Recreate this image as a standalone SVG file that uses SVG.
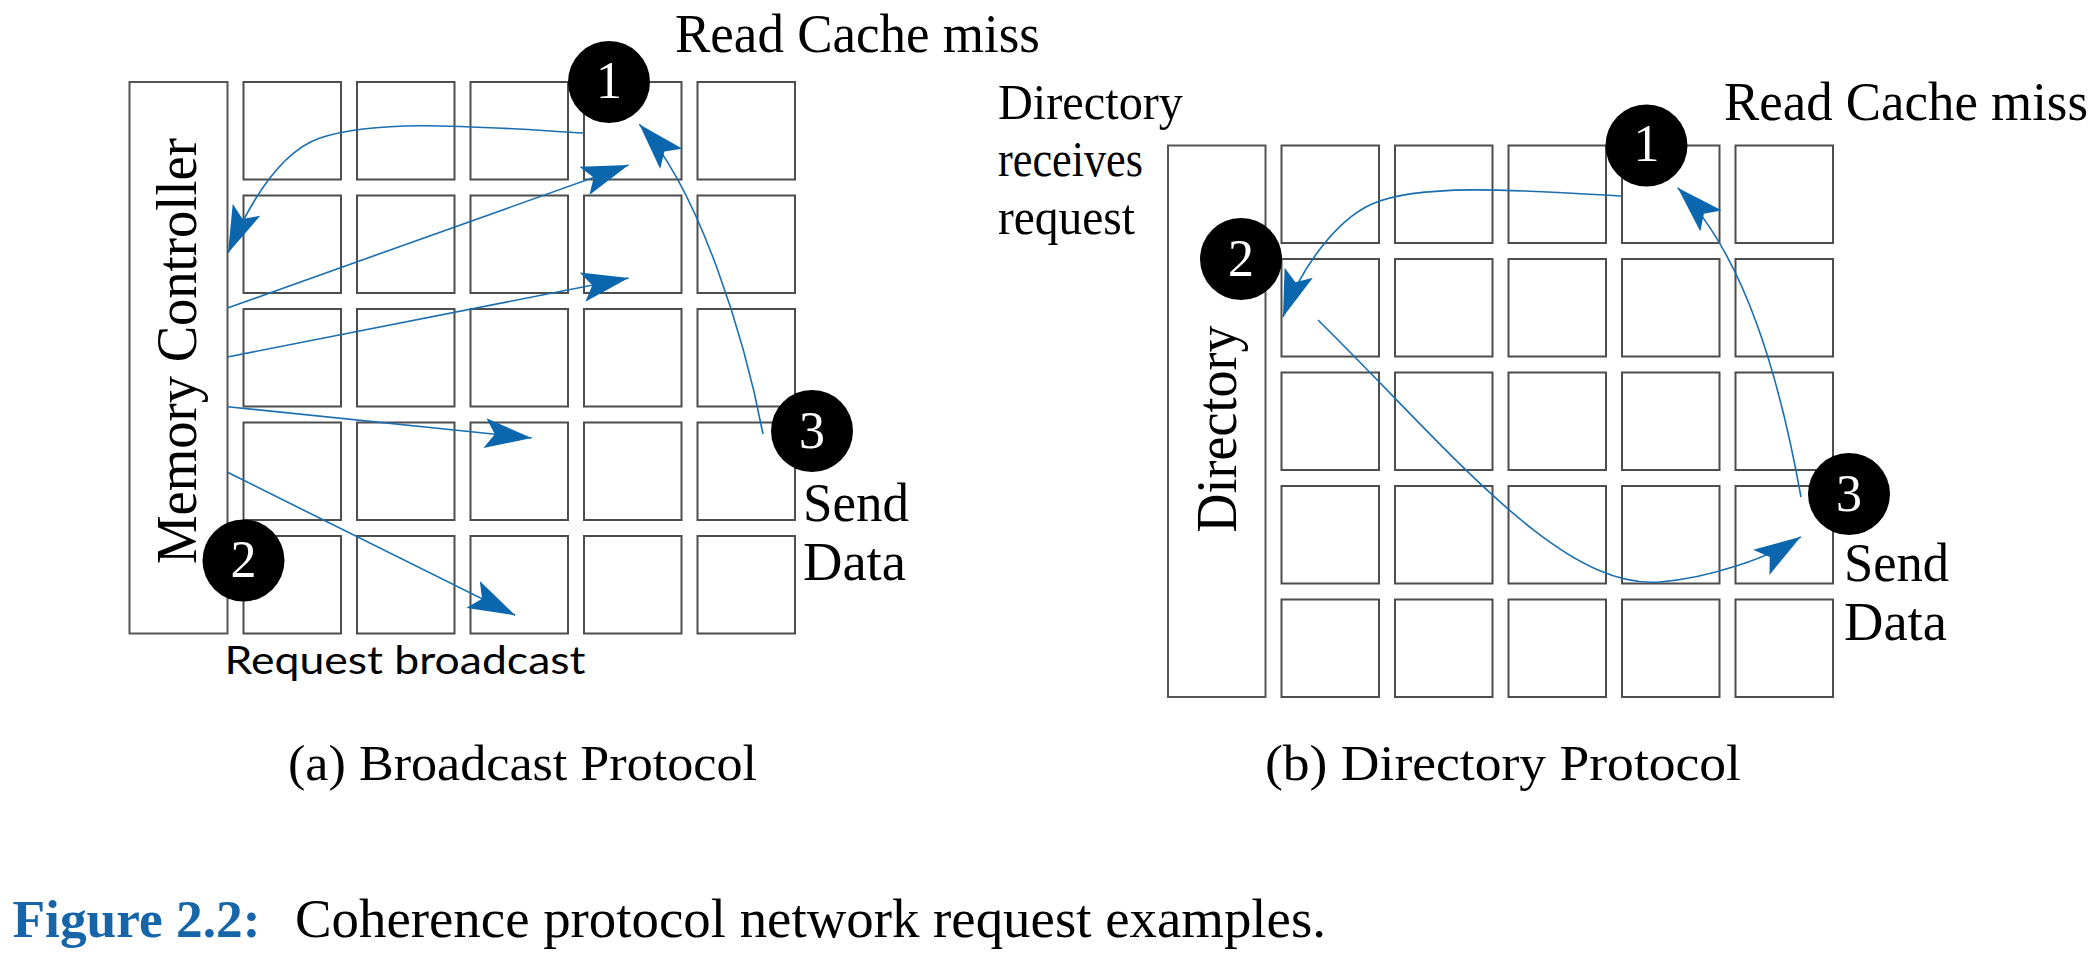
<svg xmlns="http://www.w3.org/2000/svg" width="2100" height="966" viewBox="0 0 2100 966">
<style>
.bg{fill:#fff}
.cell{fill:#fff;stroke:#4d4d4d;stroke-width:2}
.ctrl{fill:#fff;stroke:#555;stroke-width:2}
.badge circle{fill:#000}
.badge text{fill:#fff;font-family:"Liberation Serif",serif;font-size:52px;text-anchor:middle}
.lbl{font-family:"Liberation Serif",serif;fill:#000}
.sans{font-family:Lato,"Liberation Sans",sans-serif;fill:#000}
.conn{fill:none;stroke:#1b6fb0;stroke-width:1.6}
.fig{font-family:"Liberation Serif",serif;font-weight:bold;fill:#1565a8}
</style>
<defs>
<marker id="ah" viewBox="0 0 48 30" refX="47" refY="15" markerWidth="48" markerHeight="30" markerUnits="userSpaceOnUse" orient="auto">
<path d="M47,15 L0,0 L10,15 L0,30 Z" fill="#0a66ad"/>
</marker>
</defs>
<rect class="bg" x="0" y="0" width="2100" height="966"/>

<!-- Panel (a) -->
<g id="a-memory-controller">
<rect class="ctrl" x="129.5" y="82" width="98" height="551.5"/>
<text class="lbl" font-size="58" text-anchor="middle" textLength="426" lengthAdjust="spacingAndGlyphs" transform="translate(196,351) rotate(-90)">Memory Controller</text>
</g>
<g id="a-r1c1"><rect class="cell" x="243.5" y="82" width="97.5" height="97.5"/></g>
<g id="a-r1c2"><rect class="cell" x="357" y="82" width="97.5" height="97.5"/></g>
<g id="a-r1c3"><rect class="cell" x="470.5" y="82" width="97.5" height="97.5"/></g>
<g id="a-r1c4"><rect class="cell" x="584" y="82" width="97.5" height="97.5"/></g>
<g id="a-r1c5"><rect class="cell" x="697.5" y="82" width="97.5" height="97.5"/></g>
<g id="a-r2c1"><rect class="cell" x="243.5" y="195.5" width="97.5" height="97.5"/></g>
<g id="a-r2c2"><rect class="cell" x="357" y="195.5" width="97.5" height="97.5"/></g>
<g id="a-r2c3"><rect class="cell" x="470.5" y="195.5" width="97.5" height="97.5"/></g>
<g id="a-r2c4"><rect class="cell" x="584" y="195.5" width="97.5" height="97.5"/></g>
<g id="a-r2c5"><rect class="cell" x="697.5" y="195.5" width="97.5" height="97.5"/></g>
<g id="a-r3c1"><rect class="cell" x="243.5" y="309" width="97.5" height="97.5"/></g>
<g id="a-r3c2"><rect class="cell" x="357" y="309" width="97.5" height="97.5"/></g>
<g id="a-r3c3"><rect class="cell" x="470.5" y="309" width="97.5" height="97.5"/></g>
<g id="a-r3c4"><rect class="cell" x="584" y="309" width="97.5" height="97.5"/></g>
<g id="a-r3c5"><rect class="cell" x="697.5" y="309" width="97.5" height="97.5"/></g>
<g id="a-r4c1"><rect class="cell" x="243.5" y="422.5" width="97.5" height="97.5"/></g>
<g id="a-r4c2"><rect class="cell" x="357" y="422.5" width="97.5" height="97.5"/></g>
<g id="a-r4c3"><rect class="cell" x="470.5" y="422.5" width="97.5" height="97.5"/></g>
<g id="a-r4c4"><rect class="cell" x="584" y="422.5" width="97.5" height="97.5"/></g>
<g id="a-r4c5"><rect class="cell" x="697.5" y="422.5" width="97.5" height="97.5"/></g>
<g id="a-r5c1"><rect class="cell" x="243.5" y="536" width="97.5" height="97.5"/></g>
<g id="a-r5c2"><rect class="cell" x="357" y="536" width="97.5" height="97.5"/></g>
<g id="a-r5c3"><rect class="cell" x="470.5" y="536" width="97.5" height="97.5"/></g>
<g id="a-r5c4"><rect class="cell" x="584" y="536" width="97.5" height="97.5"/></g>
<g id="a-r5c5"><rect class="cell" x="697.5" y="536" width="97.5" height="97.5"/></g>

<!-- Panel (b) -->
<g id="b-directory">
<rect class="ctrl" x="1168" y="145.5" width="97.5" height="551.5"/>
<text class="lbl" font-size="58" text-anchor="middle" textLength="207" lengthAdjust="spacingAndGlyphs" transform="translate(1236,429) rotate(-90)">Directory</text>
</g>
<g id="b-r1c1"><rect class="cell" x="1281.5" y="145.5" width="97.5" height="97.5"/></g>
<g id="b-r1c2"><rect class="cell" x="1395" y="145.5" width="97.5" height="97.5"/></g>
<g id="b-r1c3"><rect class="cell" x="1508.5" y="145.5" width="97.5" height="97.5"/></g>
<g id="b-r1c4"><rect class="cell" x="1622" y="145.5" width="97.5" height="97.5"/></g>
<g id="b-r1c5"><rect class="cell" x="1735.5" y="145.5" width="97.5" height="97.5"/></g>
<g id="b-r2c1"><rect class="cell" x="1281.5" y="259" width="97.5" height="97.5"/></g>
<g id="b-r2c2"><rect class="cell" x="1395" y="259" width="97.5" height="97.5"/></g>
<g id="b-r2c3"><rect class="cell" x="1508.5" y="259" width="97.5" height="97.5"/></g>
<g id="b-r2c4"><rect class="cell" x="1622" y="259" width="97.5" height="97.5"/></g>
<g id="b-r2c5"><rect class="cell" x="1735.5" y="259" width="97.5" height="97.5"/></g>
<g id="b-r3c1"><rect class="cell" x="1281.5" y="372.5" width="97.5" height="97.5"/></g>
<g id="b-r3c2"><rect class="cell" x="1395" y="372.5" width="97.5" height="97.5"/></g>
<g id="b-r3c3"><rect class="cell" x="1508.5" y="372.5" width="97.5" height="97.5"/></g>
<g id="b-r3c4"><rect class="cell" x="1622" y="372.5" width="97.5" height="97.5"/></g>
<g id="b-r3c5"><rect class="cell" x="1735.5" y="372.5" width="97.5" height="97.5"/></g>
<g id="b-r4c1"><rect class="cell" x="1281.5" y="486" width="97.5" height="97.5"/></g>
<g id="b-r4c2"><rect class="cell" x="1395" y="486" width="97.5" height="97.5"/></g>
<g id="b-r4c3"><rect class="cell" x="1508.5" y="486" width="97.5" height="97.5"/></g>
<g id="b-r4c4"><rect class="cell" x="1622" y="486" width="97.5" height="97.5"/></g>
<g id="b-r4c5"><rect class="cell" x="1735.5" y="486" width="97.5" height="97.5"/></g>
<g id="b-r5c1"><rect class="cell" x="1281.5" y="599.5" width="97.5" height="97.5"/></g>
<g id="b-r5c2"><rect class="cell" x="1395" y="599.5" width="97.5" height="97.5"/></g>
<g id="b-r5c3"><rect class="cell" x="1508.5" y="599.5" width="97.5" height="97.5"/></g>
<g id="b-r5c4"><rect class="cell" x="1622" y="599.5" width="97.5" height="97.5"/></g>
<g id="b-r5c5"><rect class="cell" x="1735.5" y="599.5" width="97.5" height="97.5"/></g>

<!-- Connectors -->
<g id="connectors">
<path class="conn" marker-end="url(#ah)" d="M584,133 C480,127 380,118 320,138 C285,150 255,190 228,253"/>
<path class="conn" marker-end="url(#ah)" d="M227.5,308 L628.6,165"/>
<path class="conn" marker-end="url(#ah)" d="M227.5,357 L628.6,278"/>
<path class="conn" marker-end="url(#ah)" d="M227.5,406.7 L531.7,438"/>
<path class="conn" marker-end="url(#ah)" d="M227.5,472.3 L515.2,615.3"/>
<path class="conn" marker-end="url(#ah)" d="M763,434 C745,340 700,190 639.3,124.3"/>
<path class="conn" marker-end="url(#ah)" d="M1622,196 C1520,190 1420,183 1372,204 C1334,221 1299,272 1283,317"/>
<path class="conn" marker-end="url(#ah)" d="M1318,320 C1450,450 1560,590 1660,582 C1710,578 1768,558 1800.8,536.8"/>
<path class="conn" marker-end="url(#ah)" d="M1801,497 C1780,380 1745,255 1677.7,187.7"/>
</g>

<!-- Badges -->
<g id="a-step1" class="badge"><circle cx="609" cy="82" r="41"/><text x="609" y="98">1</text></g>
<g id="a-step2" class="badge"><circle cx="243.5" cy="560.5" r="41"/><text x="243.5" y="577">2</text></g>
<g id="a-step3" class="badge"><circle cx="812" cy="431" r="41"/><text x="812" y="448">3</text></g>
<g id="b-step1" class="badge"><circle cx="1646.5" cy="145.5" r="41"/><text x="1646.5" y="161">1</text></g>
<g id="b-step2" class="badge"><circle cx="1241" cy="259" r="41"/><text x="1241" y="276">2</text></g>
<g id="b-step3" class="badge"><circle cx="1849" cy="494" r="41"/><text x="1849" y="511">3</text></g>

<!-- Labels -->
<g id="labels">
<text class="lbl" x="675" y="52" font-size="54" textLength="365" lengthAdjust="spacingAndGlyphs">Read Cache miss</text>
<text class="lbl" x="803" y="520.5" font-size="54" textLength="106" lengthAdjust="spacingAndGlyphs">Send</text>
<text class="lbl" x="803" y="579.5" font-size="54" textLength="103" lengthAdjust="spacingAndGlyphs">Data</text>
<text class="sans" x="224.5" y="673.5" font-size="39" textLength="361" lengthAdjust="spacingAndGlyphs">Request broadcast</text>
<text class="lbl" x="1724" y="120" font-size="54" textLength="364" lengthAdjust="spacingAndGlyphs">Read Cache miss</text>
<text class="lbl" x="998" y="119" font-size="50" textLength="185" lengthAdjust="spacingAndGlyphs">Directory</text>
<text class="lbl" x="998" y="175.5" font-size="50" textLength="145" lengthAdjust="spacingAndGlyphs">receives</text>
<text class="lbl" x="998" y="234" font-size="50" textLength="137" lengthAdjust="spacingAndGlyphs">request</text>
<text class="lbl" x="1844" y="580.5" font-size="54" textLength="105" lengthAdjust="spacingAndGlyphs">Send</text>
<text class="lbl" x="1844" y="640" font-size="54" textLength="103" lengthAdjust="spacingAndGlyphs">Data</text>
<text class="lbl" x="288" y="780" font-size="50" textLength="469" lengthAdjust="spacingAndGlyphs">(a) Broadcast Protocol</text>
<text class="lbl" x="1265" y="780" font-size="50" textLength="476" lengthAdjust="spacingAndGlyphs">(b) Directory Protocol</text>
<text class="fig" x="12.5" y="937" font-size="53" textLength="248" lengthAdjust="spacingAndGlyphs">Figure 2.2:</text>
<text class="lbl" x="295" y="937" font-size="54" textLength="1031" lengthAdjust="spacingAndGlyphs">Coherence protocol network request examples.</text>
</g>
</svg>
